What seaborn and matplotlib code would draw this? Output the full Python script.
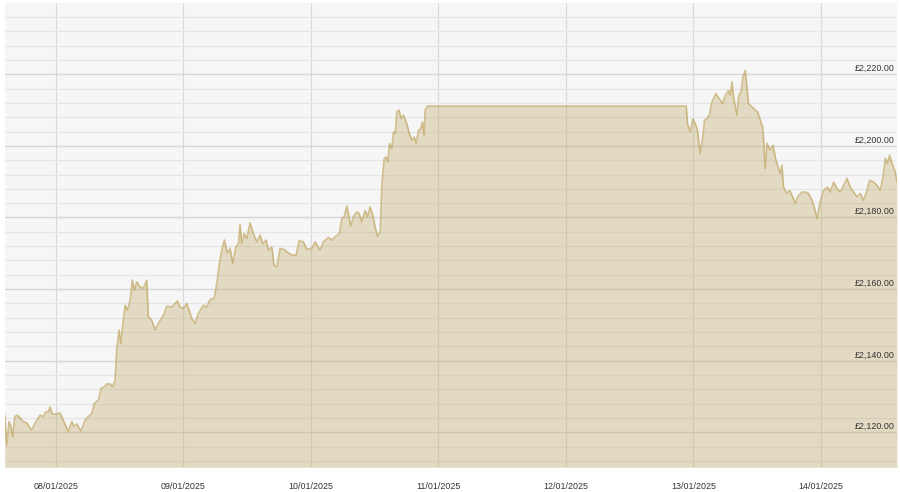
import matplotlib
matplotlib.use("Agg")
import matplotlib.pyplot as plt
import matplotlib.dates as mdates
from matplotlib.ticker import MultipleLocator
import matplotlib.transforms as mtransforms
import seaborn as sns
import pandas as pd

# hours relative to 08/01/2025 00:00
hours = [-9.60, -9.22, -8.79, -8.41, -8.09, -7.72, -7.23, -6.72, -6.10, -5.46, -4.52, -3.90, -2.96, -2.33,
         -1.88, -1.39, -1.07, -0.64, 0.19, 0.81, 1.43, 2.37, 3.01, 3.44, 3.95, 4.76, 5.52, 6.14, 6.78, 7.27,
         8.02, 8.53, 9.15, 9.60, 10.22, 10.73, 11.16, 11.48, 11.92, 12.24, 12.54, 13.05, 13.48, 13.99, 14.42,
         14.80, 15.25, 15.87, 16.49, 17.13, 17.43, 18.07, 18.69, 19.31, 20.25, 20.89, 21.84, 22.89, 23.40,
         24.02, 24.66, 25.60, 26.22, 26.84, 27.78, 28.42, 29.05, 29.80, 30.31, 30.80, 31.25, 31.74, 32.30,
         32.81, 33.32, 33.88, 34.37, 34.69, 35.01, 35.45, 35.95, 36.58, 37.20, 37.84, 38.46, 38.97, 39.59,
         40.02, 40.66, 41.09, 41.60, 42.22, 43.16, 43.48, 44.42, 45.23, 45.80, 46.61, 47.25, 48.19, 48.81,
         49.75, 50.37, 51.31, 51.95, 52.58, 53.38, 53.84, 54.27, 54.78, 55.53, 56.02, 56.66, 57.09, 57.60,
         58.22, 58.66, 59.16, 59.67, 60.11, 60.54, 61.05, 61.37, 61.80, 62.18, 62.50, 62.80, 63.25, 63.55,
         63.87, 64.19, 64.62, 65.00, 65.43, 66.07, 66.56, 67.01, 67.45, 67.82, 68.26, 68.71, 69.01, 69.33,
         69.52, 69.95, 118.65, 118.89, 119.40, 119.91, 120.34, 120.77, 121.28, 121.72, 122.09, 122.54,
         122.98, 123.49, 124.24, 124.86, 125.48, 125.99, 126.61, 126.93, 127.25, 127.55, 128.19, 128.49,
         129.00, 129.32, 129.75, 130.07, 130.37, 131.01, 131.64, 132.07, 132.58, 133.01, 133.20, 133.52,
         133.84, 134.46, 134.97, 135.40, 135.72, 136.34, 136.66, 136.96, 137.60, 138.09, 138.55, 139.17,
         139.60, 140.43, 141.05, 141.67, 142.31, 142.74, 143.25, 143.55, 143.87, 144.49, 145.25, 145.76,
         146.38, 147.01, 147.64, 148.26, 148.90, 149.52, 150.14, 150.78, 151.40, 152.02, 152.66, 153.15,
         153.91, 154.55, 155.17, 155.67, 156.11, 156.54, 156.92, 157.37, 157.99, 158.31]

prices = [2125.1, 2116.5, 2123.0, 2121.6, 2118.8, 2124.4, 2124.8, 2124.0, 2123.0, 2122.6, 2120.6, 2122.6,
          2124.8, 2124.4, 2125.7, 2125.7, 2127.1, 2125.1, 2125.1, 2125.4, 2123.4, 2120.2, 2123.0, 2121.6,
          2122.3, 2120.4, 2123.4, 2124.4, 2125.3, 2128.1, 2129.0, 2132.3, 2132.7, 2133.5, 2133.5, 2132.7,
          2134.6, 2143.4, 2148.6, 2144.8, 2149.0, 2155.5, 2154.1, 2156.9, 2162.5, 2159.7, 2162.0, 2160.6,
          2160.2, 2162.5, 2152.3, 2151.3, 2148.6, 2150.4, 2152.7, 2155.2, 2155.0, 2156.7, 2155.0, 2154.6,
          2156.0, 2151.8, 2150.4, 2153.2, 2155.5, 2155.0, 2157.1, 2157.4, 2161.6, 2167.2, 2170.9, 2173.7,
          2170.0, 2171.4, 2167.2, 2171.8, 2172.7, 2178.1, 2172.7, 2175.5, 2174.1, 2178.5, 2175.5, 2173.2,
          2175.1, 2172.7, 2173.7, 2170.9, 2171.8, 2166.7, 2166.2, 2171.4, 2170.9, 2170.4, 2169.5, 2169.5,
          2173.5, 2173.2, 2171.1, 2171.4, 2173.2, 2170.9, 2173.2, 2174.4, 2173.7, 2174.6, 2175.5, 2179.7,
          2180.2, 2183.2, 2177.6, 2180.2, 2181.6, 2181.1, 2178.8, 2182.0, 2180.2, 2183.0, 2180.6, 2177.4,
          2174.6, 2176.0, 2189.0, 2196.5, 2196.9, 2195.5, 2200.7, 2199.3, 2203.9, 2203.4, 2209.5, 2210.0,
          2207.6, 2208.6, 2206.2, 2203.4, 2201.6, 2202.5, 2200.8, 2204.4, 2204.8, 2206.7, 2203.0, 2210.0,
          2211.1, 2211.1, 2206.2, 2203.9, 2207.6, 2206.2, 2204.4, 2197.9, 2202.1, 2207.2, 2207.6, 2208.6,
          2212.3, 2214.6, 2213.2, 2211.8, 2214.1, 2215.5, 2214.1, 2217.9, 2213.7, 2208.6, 2213.7, 2215.5,
          2219.2, 2221.1, 2216.5, 2211.8, 2210.9, 2210.0, 2209.5, 2207.2, 2205.3, 2202.1, 2193.7, 2200.7,
          2198.8, 2200.2, 2196.9, 2195.1, 2192.3, 2194.6, 2188.5, 2186.7, 2187.6, 2186.2, 2183.9, 2185.8,
          2187.1, 2187.1, 2186.7, 2184.8, 2183.0, 2179.7, 2182.0, 2184.4, 2187.6, 2188.5, 2187.1, 2189.9,
          2188.1, 2187.1, 2189.0, 2190.9, 2188.5, 2187.1, 2185.8, 2186.7, 2184.8, 2187.6, 2190.4, 2189.9,
          2189.0, 2187.6, 2191.3, 2196.5, 2195.1, 2197.4, 2195.1, 2192.7, 2189.9]

day_ticks = ["2025-01-08", "2025-01-09", "2025-01-10", "2025-01-11", "2025-01-12", "2025-01-13", "2025-01-14"]
price_ticks = [2120, 2140, 2160, 2180, 2200, 2220]

base = pd.Timestamp("2025-01-08")
df = pd.DataFrame({"time": base + pd.to_timedelta(hours, unit="h"), "price": prices})

sns.set_style("white")
plt.rcParams["font.family"] = ["Liberation Sans", "DejaVu Sans"]

fig = plt.figure(figsize=(9, 4.92), dpi=100)
ax = fig.add_axes([4.5 / 900, (492 - 466.5) / 492, 892.5 / 900, 463.5 / 492])
ax.set_facecolor("#f6f6f6")

gold = "#ba9c4f"
ax.fill_between(df["time"], df["price"], 2100, color=gold, alpha=0.30, lw=0, zorder=2)
sns.lineplot(data=df, x="time", y="price", ax=ax, color=gold, alpha=0.6, lw=1.2, zorder=3)

ax.set_xlim(base + pd.Timedelta(hours=-9.64), base + pd.Timedelta(hours=158.31))
ax.set_ylim(2110.45, 2239.9)

ax.yaxis.set_major_locator(MultipleLocator(20))
ax.yaxis.set_minor_locator(MultipleLocator(4))
ax.grid(which="major", axis="y", color="#d6d6d6", lw=1.0, zorder=1)
ax.grid(which="minor", axis="y", color="#e6e6e6", lw=0.9, zorder=1)
ax.set_xticks(pd.to_datetime(day_ticks))
ax.xaxis.set_major_formatter(mdates.DateFormatter("%d/%m/%Y"))
ax.grid(which="major", axis="x", color="#dadada", lw=0.9, zorder=1)
ax.tick_params(axis="x", which="major", length=6, width=0.9, color="#dadada",
               labelsize=6.4, labelcolor="#333333", pad=5)
ax.tick_params(axis="y", which="both", left=False, labelleft=False)
ax.set_xlabel("")
ax.set_ylabel("")
for s in ax.spines.values():
    s.set_visible(False)

trans = mtransforms.blended_transform_factory(ax.transAxes, ax.transData)
for p in price_ticks:
    ax.text(0.9975, p + 0.35, f"£{p:,.2f}", transform=trans, ha="right", va="bottom",
            fontsize=6.4, color="#333333", zorder=5)

fig.savefig("out.png", dpi=100)
